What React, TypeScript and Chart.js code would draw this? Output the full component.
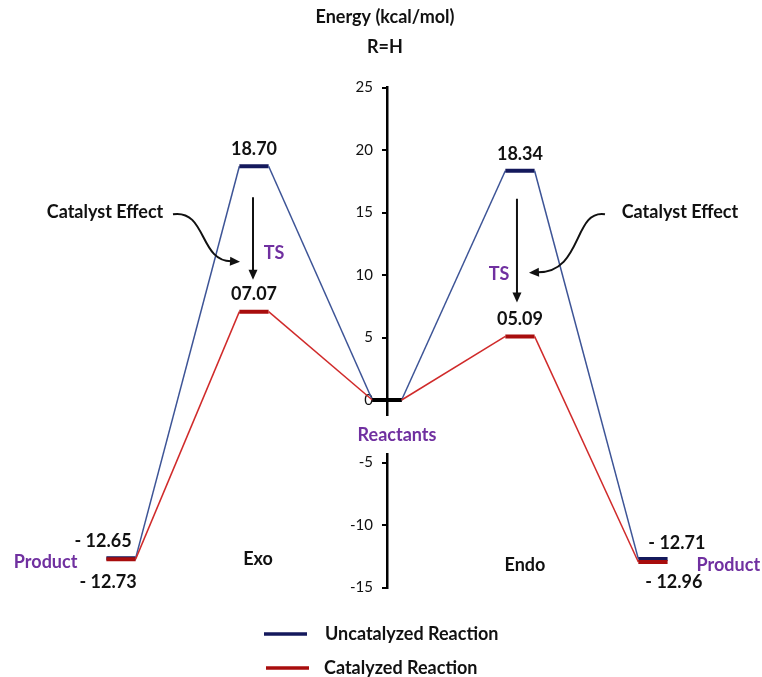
import React, { useEffect, useRef } from 'react';
import { Chart, registerables } from 'chart.js';

Chart.register(...registerables);

// ---- data ----
const STAGES = ['Product', 'TS', 'Reactants', 'TS', 'Product'];
const STAGE_X = [-2, -1, 0, 1, 2];
const UNCATALYZED = [-12.65, 18.7, 0, 18.34, -12.71];
const CATALYZED = [-12.73, 7.07, 0, 5.09, -12.96];
const Y_TICKS = [-15, -10, -5, 0, 5, 10, 15, 20, 25];
const SERIES_LABELS = ['Uncatalyzed Reaction', 'Catalyzed Reaction'];
const SIDE_LABELS = ['Exo', 'Endo'];
const TITLE_LINES = ['Energy (kcal/mol)', 'R=H'];

// ---- style ----
const HW = 0.11; // plateau half width in reaction-coordinate units
const LINE_COLORS = ['#3d5496', '#d02a2a'];
const LEVEL_COLORS = ['#14195c', '#a80d0d'];
const PURPLE = '#7030a0';
const FONT = 'Lato, "Open Sans", sans-serif';
const BOLD = `700 18px ${FONT}`;
const REACTANT_IDX = 2;

function buildPoints(values: number[]) {
  const pts: { x: number; y: number }[] = [];
  values.forEach((v, i) => {
    pts.push({ x: STAGE_X[i] - HW, y: v });
    pts.push({ x: STAGE_X[i] + HW, y: v });
  });
  return pts;
}

function fmt(v: number) {
  if (v < 0) return '- ' + Math.abs(v).toFixed(2);
  return (v < 10 ? '0' : '') + v.toFixed(2);
}

const annotations = {
  id: 'annotations',
  afterDraw(chart: any) {
    const { ctx, scales } = chart;
    const px = (v: number) => scales.x.getPixelForValue(v);
    const py = (v: number) => scales.y.getPixelForValue(v);
    const text = (s: string, x: number, y: number, align: CanvasTextAlign, color = '#111') => {
      ctx.fillStyle = color;
      ctx.textAlign = align;
      ctx.fillText(s, x, y);
    };
    const arrowHead = (x: number, y: number, ang: number) => {
      ctx.save();
      ctx.translate(x, y);
      ctx.rotate(ang);
      ctx.beginPath();
      ctx.moveTo(0, 0);
      ctx.lineTo(-10, -4.5);
      ctx.lineTo(-10, 4.5);
      ctx.closePath();
      ctx.fillStyle = '#111';
      ctx.fill();
      ctx.restore();
    };
    ctx.save();
    ctx.font = BOLD;
    ctx.textBaseline = 'middle';

    const ax = px(STAGE_X[REACTANT_IDX]);
    // title
    text(TITLE_LINES[0], ax - 2, 17, 'center');
    text(TITLE_LINES[1], ax - 2, 47, 'center');

    // Reactants label with white gap in axis
    const ry = py(0);
    ctx.fillStyle = '#fff';
    ctx.fillRect(ax - 5, ry + 16, 10, 37);
    text(STAGES[REACTANT_IDX], ax + 10, ry + 35, 'center', PURPLE);

    // TS values
    [1, 3].forEach((i) => {
      text(fmt(UNCATALYZED[i]), px(STAGE_X[i]), py(UNCATALYZED[i]) - 17, 'center');
      text(fmt(CATALYZED[i]), px(STAGE_X[i]), py(CATALYZED[i]) - 17, 'center');
    });

    // product values, left
    const l = 0;
    const lRight = px(STAGE_X[l] + HW);
    const lLeft = px(STAGE_X[l] - HW);
    text(fmt(UNCATALYZED[l]), lRight - 4, py(UNCATALYZED[l]) - 17, 'right');
    text(fmt(CATALYZED[l]), lRight + 1, py(CATALYZED[l]) + 23, 'right');
    text(STAGES[l], lLeft - 29, py(CATALYZED[l]) + 3, 'right', PURPLE);
    // product values, right
    const r = 4;
    const rLeft = px(STAGE_X[r] - HW);
    const rRight = px(STAGE_X[r] + HW);
    text(fmt(UNCATALYZED[r]), rLeft + 10, py(UNCATALYZED[r]) - 16, 'left');
    text(fmt(CATALYZED[r]), rLeft + 7, py(CATALYZED[r]) + 20, 'left');
    text(STAGES[r], rRight + 29, py(UNCATALYZED[r]) + 6, 'left', PURPLE);

    // Exo / Endo
    text(SIDE_LABELS[0], px(STAGE_X[1]) + 4, py(UNCATALYZED[0]) + 1, 'center');
    text(SIDE_LABELS[1], px(STAGE_X[3]) + 5, py(UNCATALYZED[4]) + 6, 'center');

    // TS labels
    text(STAGES[1], px(STAGE_X[1]) + 20, py(UNCATALYZED[1]) + 87, 'center', PURPLE);
    text(STAGES[3], px(STAGE_X[3]) - 21, py(UNCATALYZED[3]) + 103, 'center', PURPLE);

    // straight arrows
    ctx.strokeStyle = '#111';
    ctx.lineWidth = 2;
    const straight = (x: number, y1: number, y2: number) => {
      ctx.beginPath();
      ctx.moveTo(x, y1);
      ctx.lineTo(x, y2 - 8);
      ctx.stroke();
      arrowHead(x, y2, Math.PI / 2);
    };
    straight(px(STAGE_X[1]) - 1, py(UNCATALYZED[1]) + 31, py(CATALYZED[1]) - 32);
    straight(px(STAGE_X[3]) - 3, py(UNCATALYZED[3]) + 28, py(CATALYZED[3]) - 34);

    // Catalyst Effect labels + curved arrows
    const cy = py(UNCATALYZED[1]) + 46;
    text('Catalyst Effect', px(STAGE_X[1]) - 149, cy, 'center');
    text('Catalyst Effect', px(STAGE_X[3]) + 160, cy, 'center');
    let sx = px(STAGE_X[1]) - 81, sy = cy + 2;
    let ex = px(STAGE_X[1]) - 14, ey = cy + 50;
    ctx.beginPath();
    ctx.moveTo(sx, sy);
    ctx.bezierCurveTo(sx + 34, sy - 5, sx + 26, ey, ex - 8, ey - 1);
    ctx.stroke();
    arrowHead(ex, ey - 0.5, 0.05);
    sx = px(STAGE_X[3]) + 85; sy = cy + 2;
    ex = px(STAGE_X[3]) + 9; ey = cy + 61;
    ctx.beginPath();
    ctx.moveTo(sx, sy);
    ctx.bezierCurveTo(sx - 32, sy - 5, sx - 22, ey, ex + 8, ey - 1);
    ctx.stroke();
    arrowHead(ex, ey - 0.5, Math.PI - 0.05);

    // legend
    chart.data.datasets.slice(0, 2).forEach((ds: any, i: number) => {
      const ly = 634 + i * 34;
      ctx.strokeStyle = LEVEL_COLORS[i];
      ctx.lineWidth = 3.5;
      ctx.beginPath();
      ctx.moveTo(264 + i * 2, ly);
      ctx.lineTo(307 + i * 2, ly);
      ctx.stroke();
      text(ds.label, 325 - i * 1, ly, 'left');
    });
    ctx.restore();
  },
};

function makeDataset(label: string, values: number[], k: number, order: number) {
  return {
    label,
    data: buildPoints(values),
    yAxisID: 'y',
    borderColor: LINE_COLORS[k],
    borderWidth: 1.5,
    pointRadius: 0,
    tension: 0,
    order,
    segment: {
      borderColor: (c: any) => {
        const i = c.p0DataIndex;
        if (i % 2 !== 0) return LINE_COLORS[k];
        return i / 2 === REACTANT_IDX ? '#000' : LEVEL_COLORS[k];
      },
      borderWidth: (c: any) => (c.p0DataIndex % 2 === 0 ? 4 : 1.5),
    },
  };
}

const setTicks = (s: any) => {
  s.ticks = Y_TICKS.map((v) => ({ value: v }));
};

export default function App() {
  const ref = useRef<HTMLCanvasElement>(null);
  useEffect(() => {
    document.body.style.margin = '0';
    const chart = new Chart(ref.current as HTMLCanvasElement, {
      type: 'line',
      data: {
        datasets: [
          makeDataset(SERIES_LABELS[0], UNCATALYZED, 0, 2),
          makeDataset(SERIES_LABELS[1], CATALYZED, 1, 1),
        ] as any,
      },
      options: {
        animation: false,
        responsive: false,
        devicePixelRatio: 1,
        layout: { padding: { top: 87.5, bottom: 89.5, left: 0, right: 0 } },
        plugins: {
          legend: { display: false },
          tooltip: { enabled: false },
          title: { display: false },
        },
        scales: {
          x: { type: 'linear', min: -2.91, max: 2.82, display: false },
          y: {
            type: 'linear',
            min: -15,
            max: 25,
            position: { x: 0 } as any,
            afterBuildTicks: setTicks,
            border: { display: true, color: '#000', width: 2.5 },
            grid: { display: true, drawOnChartArea: false, drawTicks: true, tickLength: 4, color: '#000', lineWidth: 2 },
            ticks: { display: false },
          },
          yLabels: {
            type: 'linear',
            min: -15,
            max: 25,
            position: { x: -0.105 } as any,
            afterBuildTicks: setTicks,
            border: { display: false },
            grid: { display: false },
            ticks: { color: '#111', padding: 0, font: { family: FONT, size: 15 } },
          },
        },
      },
      plugins: [annotations],
    });
    return () => chart.destroy();
  }, []);
  return (
    <div style={{ position: 'absolute', left: 0, top: 0, width: 762, height: 677, background: '#fff' }}>
      <canvas ref={ref} width={762} height={677} style={{ display: 'block' }} />
    </div>
  );
}
